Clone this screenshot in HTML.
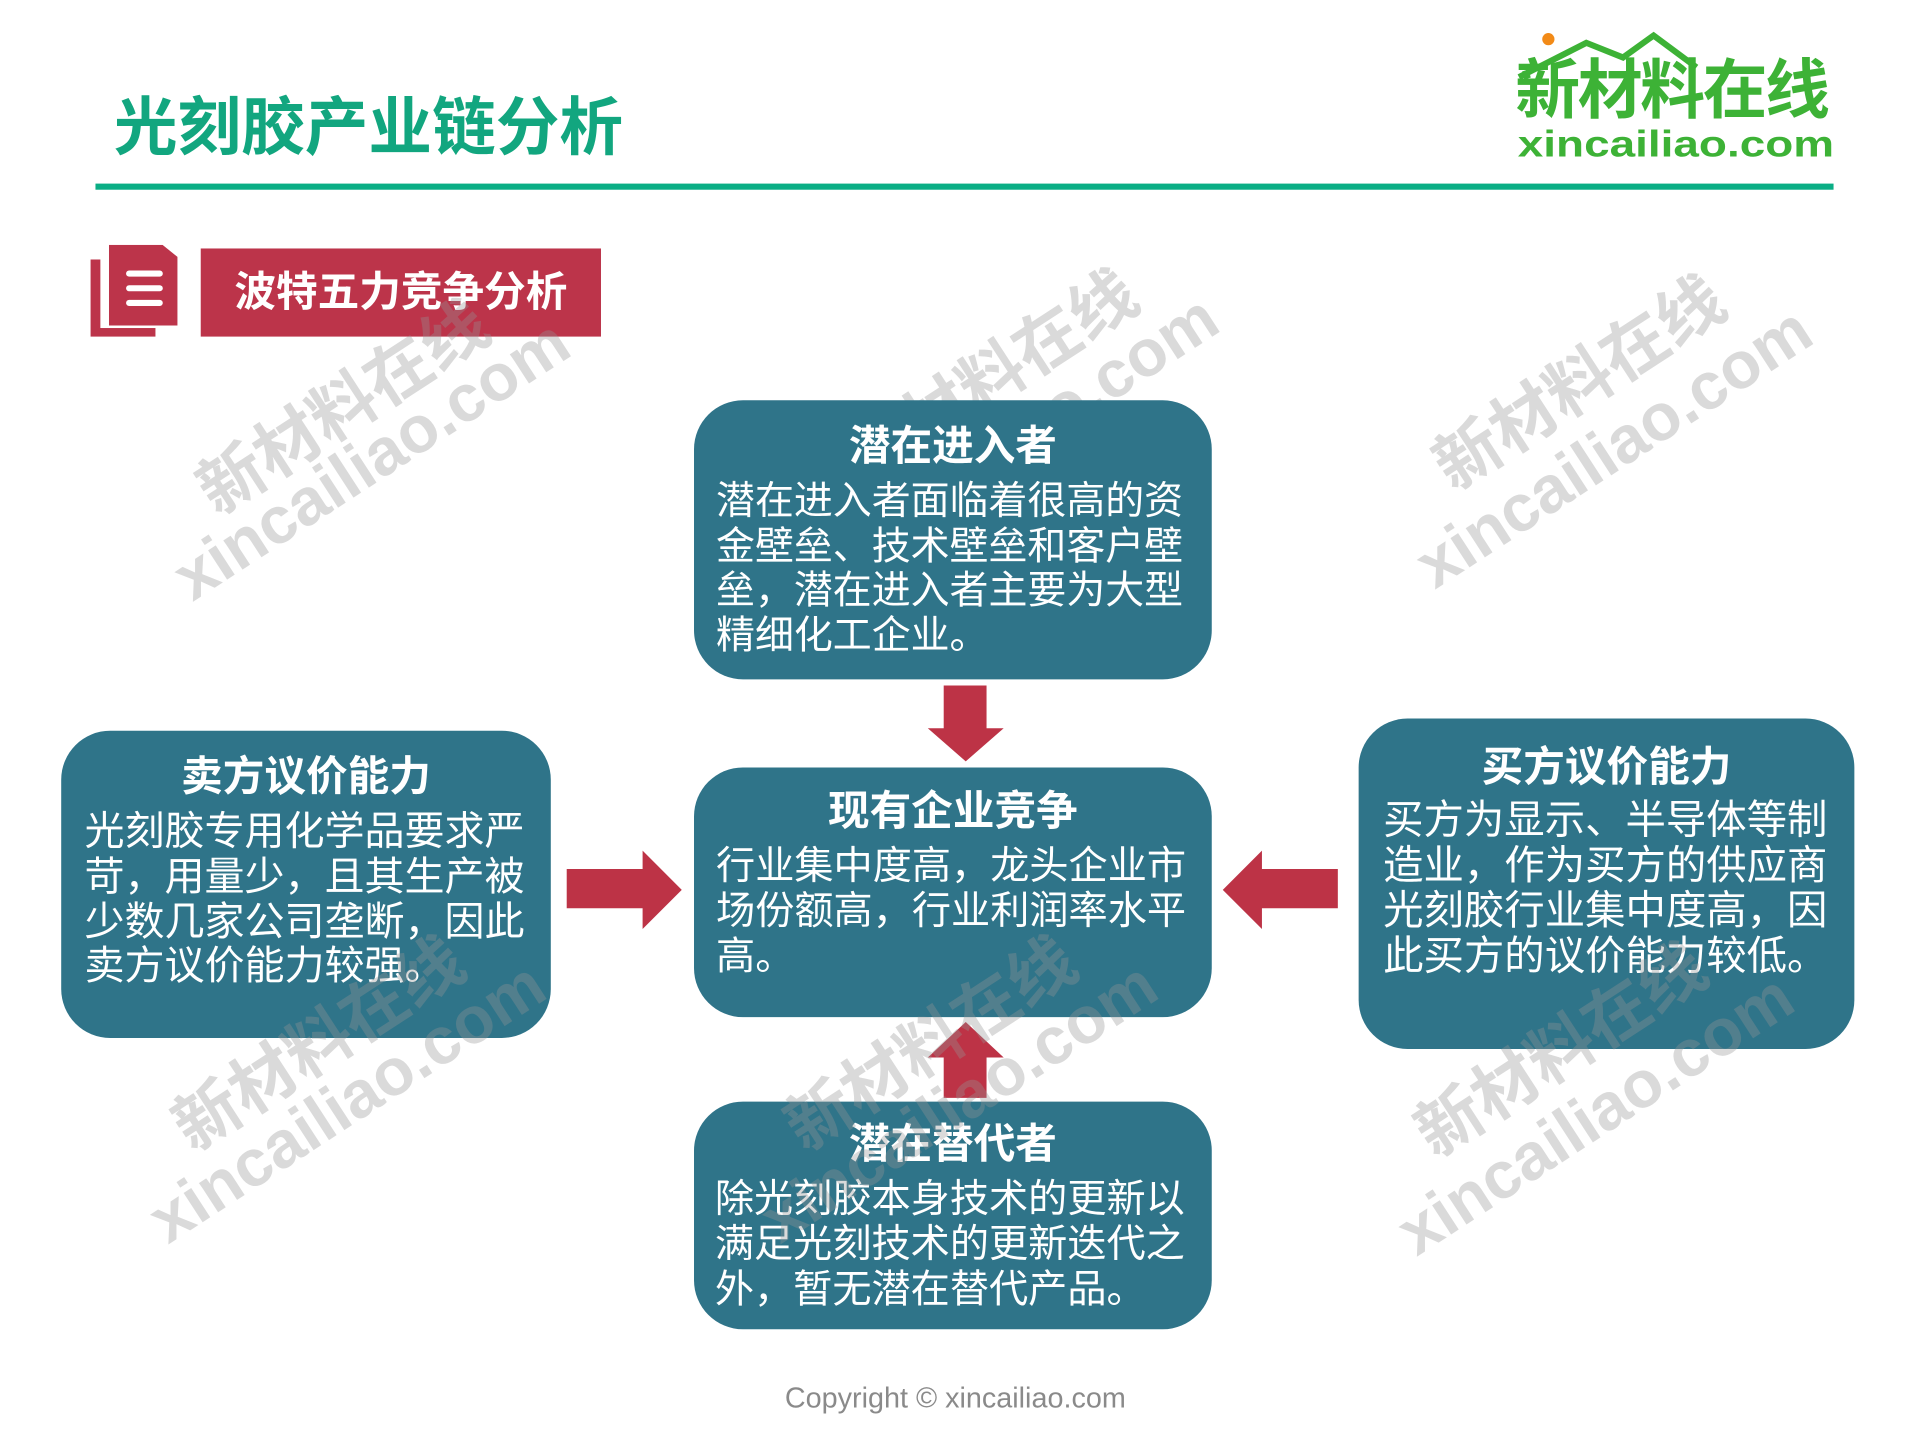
<!DOCTYPE html>
<html><head><meta charset="utf-8"><style>
html,body{margin:0;padding:0;background:#fff;}
body{width:1920px;height:1440px;overflow:hidden;position:relative;}
#s{position:absolute;left:0;top:0;width:1561px;height:1170px;transform:scale(1.224);transform-origin:0 0;font-family:"Liberation Sans","Noto Sans CJK SC",sans-serif;}
.a{position:absolute;}
.box{position:absolute;background:#2f7489;border-radius:40px;color:#fff;}
.t{position:absolute;left:0;right:0;text-align:center;font-weight:bold;font-size:34px;line-height:40px;}
.b{position:absolute;white-space:nowrap;}
.wm{position:absolute;color:rgba(150,150,150,0.35);font-weight:bold;font-size:54px;transform:rotate(-33deg);transform-origin:0 0;white-space:nowrap;line-height:64px;}
</style></head><body><div id="s">
<div class="a" style="left:93px;top:72px;font-size:52px;font-weight:bold;color:#12a67f;line-height:66px;">光刻胶产业链分析</div>
<div class="a" style="left:78px;top:150px;width:1420px;height:5px;background:#0aae85;"></div>
<svg class="a" style="left:1236px;top:25px" width="270" height="40"><circle cx="29" cy="7" r="5" fill="#f28a17"/><polyline points="5,38 60,10 90,22 115,4 150,30" fill="none" stroke="#3db236" stroke-width="5"/></svg>
<div class="a" style="left:1238px;top:44px;font-size:53px;font-weight:bold;color:#3db236;line-height:62px;letter-spacing:-2px;">新材料在线</div>
<div class="a" style="left:1240px;top:102px;font-size:30px;font-weight:bold;color:#3db236;line-height:34px;transform:scaleX(1.25);transform-origin:0 0;">xincailiao.com</div>
<div class="a" style="left:74px;top:212px;width:53px;height:63px;background:#bc344a;"></div>
<div class="a" style="left:82px;top:205px;width:54px;height:63px;background:#fff;"></div>
<div class="a" style="left:89px;top:200px;width:56px;height:66px;background:#bc344a;clip-path:polygon(0 0,78% 0,100% 15%,100% 100%,0 100%);"></div>
<div class="a" style="left:103px;top:221px;width:30px;height:5px;background:#fff;border-radius:3px;box-shadow:0 12px 0 #fff,0 24px 0 #fff;"></div>
<div class="a" style="left:164px;top:203px;width:327px;height:72px;background:#bc344a;color:#fff;font-weight:bold;font-size:34px;line-height:72px;text-align:center;">波特五力竞争分析</div>

<div class="wm" style="left:150px;top:380px;">新材料在线</div><div class="wm" style="left:130px;top:450px;">xincailiao.com</div>
<div class="wm" style="left:680px;top:355px;">新材料在线</div><div class="wm" style="left:660px;top:430px;">xincailiao.com</div>
<div class="wm" style="left:1160px;top:360px;">新材料在线</div><div class="wm" style="left:1145px;top:440px;">xincailiao.com</div>

<div class="box" style="left:567px;top:327px;width:423px;height:228px;">
<div class="t" style="top:18px;">潜在进入者</div>
<div class="b" style="left:18px;top:64px;font-size:31.8px;line-height:36.7px;">潜在进入者面临着很高的资<br>金壁垒、技术壁垒和客户壁<br>垒，潜在进入者主要为大型<br>精细化工企业。</div></div>

<div class="box" style="left:567px;top:627px;width:423px;height:204px;">
<div class="t" style="top:16px;">现有企业竞争</div>
<div class="b" style="left:18px;top:62px;font-size:32px;line-height:37px;">行业集中度高，龙头企业市<br>场份额高，行业利润率水平<br>高。</div></div>

<div class="box" style="left:567px;top:900px;width:423px;height:186px;">
<div class="t" style="top:15px;">潜在替代者</div>
<div class="b" style="left:17px;top:61px;font-size:32px;line-height:37px;">除光刻胶本身技术的更新以<br>满足光刻技术的更新迭代之<br>外，暂无潜在替代产品。</div></div>

<div class="box" style="left:50px;top:597px;width:400px;height:251px;">
<div class="t" style="top:18px;">卖方议价能力</div>
<div class="b" style="left:19px;top:64px;font-size:32.7px;line-height:36.8px;">光刻胶专用化学品要求严<br>苛，用量少，且其生产被<br>少数几家公司垄断，因此<br>卖方议价能力较强。</div></div>

<div class="box" style="left:1110px;top:587px;width:405px;height:270px;">
<div class="t" style="top:20px;">买方议价能力</div>
<div class="b" style="left:20px;top:64px;font-size:33px;line-height:37px;">买方为显示、半导体等制<br>造业，作为买方的供应商<br>光刻胶行业集中度高，因<br>此买方的议价能力较低。</div></div>

<svg class="a" style="left:0;top:0;overflow:visible" width="1561" height="1170">
<polygon fill="#bd3346" points="771,560 806,560 806,595 820,595 789,622 758,595 771,595"/>
<polygon fill="#bd3346" points="771,897 806,897 806,864 820,864 789,835 758,864 771,864"/>
<polygon fill="#bd3346" points="463,710 525,710 525,695 557,727 525,759 525,742 463,742"/>
<polygon fill="#bd3346" points="1093,710 1031,710 1031,695 999,727 1031,759 1031,742 1093,742"/>
</svg>

<div class="wm" style="left:130px;top:900px;">新材料在线</div><div class="wm" style="left:110px;top:975px;">xincailiao.com</div>
<div class="wm" style="left:630px;top:900px;">新材料在线</div><div class="wm" style="left:610px;top:975px;">xincailiao.com</div>
<div class="wm" style="left:1145px;top:905px;">新材料在线</div><div class="wm" style="left:1130px;top:985px;">xincailiao.com</div>

<div class="a" style="left:0;width:1561px;top:1127px;text-align:center;font-size:23.5px;color:#8a8a8a;line-height:30px;">Copyright © xincailiao.com</div>
</div></body></html>
